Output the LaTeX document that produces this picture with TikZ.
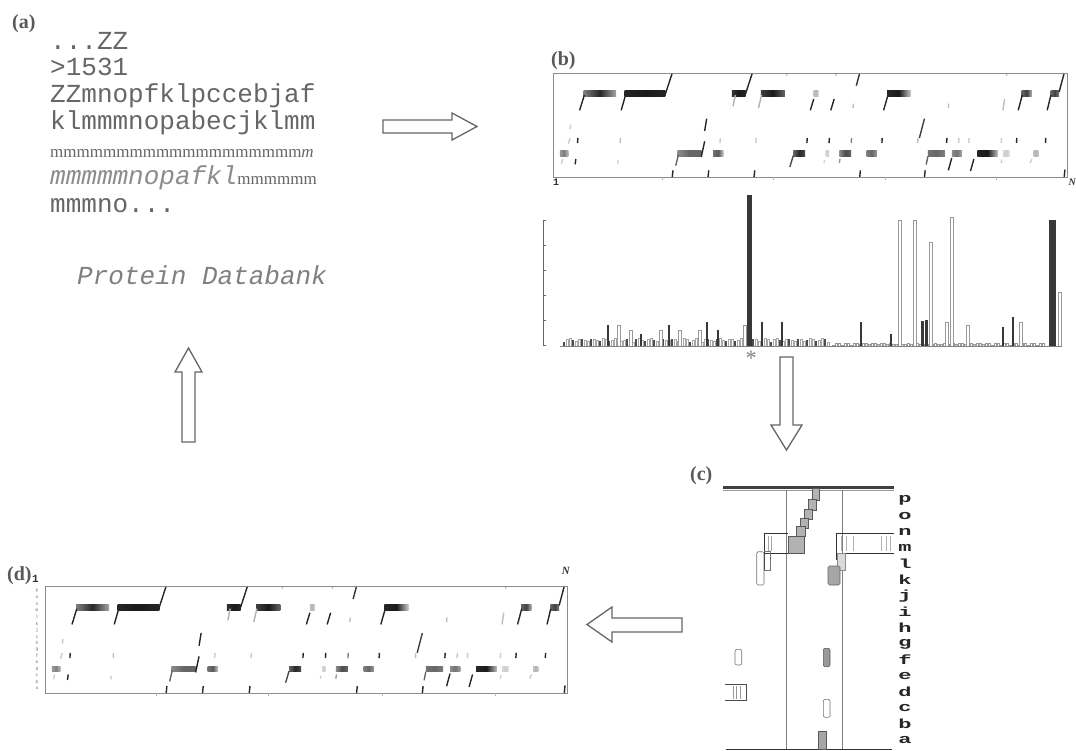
\documentclass[tikz,border=0pt]{standalone}
\usepackage{fontspec}
\usepackage{graphicx}
\setmainfont{Liberation Serif}
\setmonofont{Liberation Mono}
\newcommand\myraster{%
 \foreach \ua/\ub/\vv/\cl/\cm/\cr in {90/185/62/50/85/35, 210/330/62/85/90/85, 525/565/62/80/90/85, 610/680/62/75/90/60, 765/780/62/25/30/10, 980/1050/62/85/90/20, 1375/1405/62/60/75/30, 1460/1485/62/60/75/50,
  20/45/242/40/50/25, 365/435/242/45/60/60, 470/500/242/55/65/20, 705/740/242/60/85/70, 800/810/242/15/20/15, 840/875/242/45/70/60, 920/950/242/50/60/40, 1100/1150/242/55/60/50, 1170/1200/242/45/55/35, 1245/1305/242/85/90/25, 1320/1340/242/15/20/10, 1410/1425/242/25/30/20}
 {\shade[left color=black!\cl, right color=black!\cr, middle color=black!\cm] (\ua,\vv-8) rectangle (\ub,\vv+8);}
 \foreach \xa/\ya/\xb/\yb/\cc in {78/112/92/66/85, 200/112/213/66/85, 330/62/350/0/85, 565/62/585/0/85, 528/100/535/66/30, 603/105/612/66/30, 755/112/765/78/85, 815/112/825/78/85, 880/105/882/92/25, 890/38/900/0/80, 970/112/983/66/85, 1160/105/1161/92/25, 1320/112/1325/78/25, 1365/112/1377/66/85, 1450/112/1461/66/85, 1485/57/1500/0/85, 685/0/686/8/25, 830/0/831/8/25, 1330/0/1331/8/25,
  50/168/52/155/20, 445/174/451/137/85, 1075/195/1090/137/75, 45/212/50/195/20, 72/210/73/195/85, 197/210/198/195/25, 490/210/491/195/20, 595/210/596/195/20, 745/210/746/195/85, 810/210/811/195/85, 875/210/876/195/50, 965/210/966/195/85, 1070/210/1071/195/25, 1155/210/1156/195/85, 1190/210/1191/195/20, 1220/210/1221/195/20, 1315/210/1316/195/20, 1360/210/1361/195/85, 1445/210/1446/195/85,
  435/252/445/205/85, 25/272/28/258/20, 65/274/67/258/85, 190/272/191/262/20, 360/278/368/245/60, 695/282/705/248/70, 795/270/797/262/20, 840/270/842/258/40, 1095/275/1100/250/60, 1160/292/1170/255/85, 1225/294/1235/258/85, 1315/270/1317/260/20, 1400/270/1405/258/20,
  350/312/352/292/85, 455/312/457/292/85, 590/312/592/292/85, 900/312/902/292/85, 1090/312/1092/292/85, 1500/312/1502/290/85}
 {\draw[line width=1.4pt, black!\cc] (\xa,\ya) -- (\xb,\yb);}
 \draw[black!45, line width=0.7pt] (0,0) rectangle (1508,312);
 \foreach \u in {320,645,975,1300}{\draw[black!30, line width=0.5pt] (\u,312) -- (\u,322);}
}
\begin{document}
\begin{tikzpicture}[x=1pt,y=-1pt,
  lab/.style={font=\fontsize{20}{20}\selectfont\bfseries, text=black!65, inner sep=0, anchor=base west},
  seq/.style={font=\fontsize{26}{27}\selectfont\ttfamily, text=black!60, inner sep=0, anchor=base west},
  hollow/.style={draw=black!60, line width=1.3pt, fill=white, line join=miter},
  small/.style={font=\fontsize{10}{10}\selectfont\ttfamily\bfseries, text=black!80, inner sep=0},
  rot/.style={font=\fontsize{22}{22}\selectfont\ttfamily\bfseries, text=black!85, inner sep=0}]
\path[use as bounding box, fill=white] (0,0) rectangle (1076,751);

% ---------- (a)
\node[lab] (la) at (12,29) {(a)};
\node[seq] (s1) at (50,50) {...ZZ};
\node[seq] (s2) at (50,76) {>1531};
\node[seq] (s3) at (50,103) {ZZmnopfklpccebjaf};
\node[seq] (s4) at (50,130) {klmmmnopabecjklmm};
\node[seq, font=\fontsize{17}{17}\selectfont\rmfamily] (s5) at (50,158) {mmmmmmmmmmmmmmmmmmm\textit{m}};
\node[seq] (s6) at (50,185) {{\itshape\color{black!45}mmmmmnopafkl}{\fontsize{17}{17}\selectfont\rmfamily mmmmmm}};
\node[seq] (s7) at (50,213) {mmmno...};
\node[seq, font=\fontsize{26}{27}\selectfont\ttfamily\itshape, text=black!50] (pdb) at (77,285) {Protein Databank};

% ---------- arrows
\draw[hollow] (383,120)--(452,120)--(452,113)--(477,126.5)--(452,140)--(452,133)--(383,133)--cycle;
\draw[hollow] (780,357)--(793,357)--(793,425)--(802,425)--(786.5,450)--(771,425)--(780,425)--cycle;
\draw[hollow] (682,618)--(612,618)--(612,607)--(587,624.5)--(612,642)--(612,632)--(682,632)--cycle;
\draw[hollow] (182,442)--(182,372)--(175,372)--(188.5,348)--(202,372)--(195,372)--(195,442)--cycle;

% ---------- (b)
\node[lab] (lb) at (551,66) {(b)};
\begin{scope}[shift={(553,73)}, x=0.3408pt, y=-0.3333pt]
\myraster
\end{scope}
\node[small, anchor=north west] (b1) at (553,179) {1};
\node[small, anchor=north east, font=\fontsize{10}{10}\selectfont\bfseries\itshape] (bN) at (1076,179) {N};

% histogram
\draw[black!60, line width=0.6pt] (543,220) -- (543,346);
\foreach \t in {220,245,270,295,320,345}{\draw[black!60, line width=0.6pt] (543,\t) -- (546,\t);}
\foreach \i in {0,...,88}{
  \pgfmathsetmacro\hh{4+3.5*abs(sin(\i*47))}
  \pgfmathtruncatemacro\mm{mod(\i,3)}
  \ifnum\mm=0 \fill[black!70] (563+3*\i,346) rectangle ++(2,-\hh);
  \else \draw[black!35, line width=0.4pt] (563+3*\i,346) rectangle ++(2,-\hh); \fi
}
\foreach \i in {0,...,70}{
  \pgfmathsetmacro\hh{1+2*abs(sin(\i*61))}
  \draw[black!40, line width=0.4pt] (832+3*\i,346) rectangle ++(2,-\hh);
}
\foreach \xx/\tp/\ww in {607/325/2, 640/334/2, 668/325/2, 706/322/2, 717/330/2, 747/195/5, 761/322/2, 781/322/2, 860/322/2, 890/334/2, 921/321/3, 925/320/3, 1002/327/2, 1012/317/2, 1049/220/7}
  {\fill[black!78] (\xx,346) rectangle (\xx+\ww,\tp);}
\foreach \xx/\tp in {617/325, 629/330, 659/330, 678/330, 698/330, 743/325, 898/220, 913/220, 929/242, 945/322, 950/217, 966/325, 1019/322, 1058/292}
  {\filldraw[fill=white, draw=black!40, line width=0.5pt] (\xx,346) rectangle (\xx+3,\tp);}
\draw[black!50, line width=0.5pt] (560,346) -- (1062,346);
\node[text=black!50, font=\fontsize{22}{22}\selectfont, inner sep=0] (ast) at (751,358) {*};

% ---------- (c)
\node[lab] (lc) at (690,480) {(c)};
\draw[black!75, line width=2.2pt] (723,487.5) -- (894,487.5);
\draw[black!40, line width=1pt] (723,490.5) -- (894,490.5);
\draw[black!50, line width=0.6pt] (786.7,490) -- (786.7,749) (842.7,490) -- (842.7,749);
\draw[black!80, line width=1pt] (726,749.3) -- (892,749.3);
\foreach \a/\b/\c/\d in {812.7/488.3/819.3/500.7, 808.3/499.3/816/510, 804/509.3/812.7/519.3, 800.7/518.3/808.3/528.3, 796.7/526.7/805/536, 788.3/536/804/553.3}
  {\filldraw[fill=black!30, draw=black!65, line width=0.6pt] (\a,\b) rectangle (\c,\d);}
\draw[black!80, line width=1pt] (764,533.3) -- (788.3,533.3) (764,553.3) -- (788.3,553.3);
\draw[black!80, line width=1pt] (764,533.3) -- (764,570);
\draw[black!35, line width=0.6pt] (768.3,536) -- (768.3,551) (771.7,536) -- (771.7,551);
\draw[black!55, line width=0.6pt, rounded corners=1.5pt] (756.7,551.7) rectangle (764,585);
\draw[black!55, line width=0.6pt] (764,551.7) -- (770,551.7) -- (770,570) -- (764,570);
\draw[black!80, line width=1pt] (836.7,533.3) -- (894,533.3) (836.7,553.3) -- (894,553.3);
\draw[black!80, line width=1pt] (836.7,533.3) -- (836.7,560);
\foreach \x in {841.7,846.7,853.3,881.7,886.7,890}{\draw[black!30, line width=0.6pt] (\x,536) -- (\x,551);}
\filldraw[fill=black!15, draw=black!45, line width=0.6pt] (837.5,553.3) rectangle (845,570);
\filldraw[fill=black!35, draw=black!60, line width=0.6pt, rounded corners=1.5pt] (828,566) rectangle (840,585);
\draw[black!55, line width=0.6pt, rounded corners=2pt] (735,649.3) rectangle (741.7,665);
\filldraw[fill=black!40, draw=black!65, line width=0.6pt, rounded corners=2pt] (823.3,648.3) rectangle (830,666.7);
\draw[black!70, line width=0.8pt] (725,684) -- (746.7,684) -- (746.7,700.7) -- (725,700.7);
\foreach \x in {733.3,736.7,740}{\draw[black!40, line width=0.6pt] (\x,686) -- (\x,699);}
\draw[black!55, line width=0.6pt, rounded corners=2pt] (823.3,699.3) rectangle (830,717.3);
\filldraw[fill=black!35, draw=black!65, line width=0.6pt] (818.3,731.7) rectangle (826,749.3);
\foreach \letr [count=\i from 0] in {p,o,n,m,l,k,j,i,h,g,f,e,d,c,b,a}
  {\node[rot] (c\letr) at (905,500+16*\i) {\scalebox{1}[0.6]{\letr}};}

% ---------- (d)
\node[lab] (ld) at (7,580) {(d)};
\node[small, anchor=base west, font=\fontsize{11}{11}\selectfont\ttfamily\bfseries] (d1) at (32,582) {1};
\node[small, anchor=base east, font=\fontsize{11}{11}\selectfont\bfseries\itshape] (dN) at (570,574) {N};
\begin{scope}[shift={(45,586)}, x=0.3462pt, y=-0.343pt]
\myraster
\end{scope}
\foreach \letr [count=\i from 0] in {p,o,n,m,l,k,j,i,h,g,f,e,d,c,b,a}
  {\node[font=\fontsize{4.5}{5}\selectfont\ttfamily, text=black!55, inner sep=0] (dl\letr) at (37,591+6.5*\i) {\letr};}
\end{tikzpicture}
\end{document}
